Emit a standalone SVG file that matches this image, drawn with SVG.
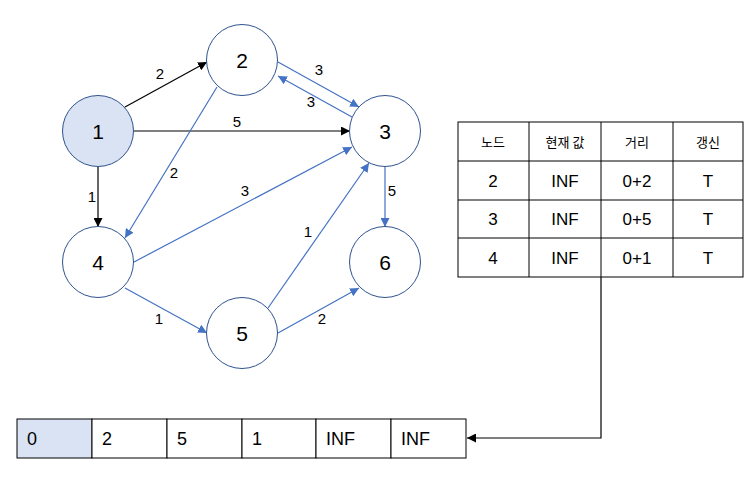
<svg xmlns="http://www.w3.org/2000/svg" width="756" height="491" viewBox="0 0 756 491">
<defs>
<marker id="ab" viewBox="0 0 10 10" refX="10" refY="5" markerWidth="9" markerHeight="9" markerUnits="userSpaceOnUse" orient="auto"><path d="M0,0 L10,5 L0,10 z" fill="#000"/></marker>
<marker id="au" viewBox="0 0 10 10" refX="10" refY="5" markerWidth="9" markerHeight="9" markerUnits="userSpaceOnUse" orient="auto"><path d="M0,0 L10,5 L0,10 z" fill="#4472C4"/></marker>
<style>
.n{fill:#fff;stroke:#2F528F;stroke-width:1}
.nt{font-family:"Liberation Sans","Noto Sans",sans-serif;font-size:21px;text-anchor:middle;dominant-baseline:central;fill:#000}
.eb{stroke:#000;stroke-width:1.2;fill:none;marker-end:url(#ab)}
.eu{stroke:#4472C4;stroke-width:1.2;fill:none;marker-end:url(#au)}
.el{font-family:"Liberation Sans","Noto Sans",sans-serif;font-size:15px;text-anchor:middle;dominant-baseline:central;fill:#000}
.tb{fill:#fff;stroke:#000;stroke-width:1}
.th{font-family:"Noto Sans CJK KR","Liberation Sans",sans-serif;font-size:13px;text-anchor:middle;dominant-baseline:central;fill:#000}
.td{font-family:"Liberation Sans","Noto Sans",sans-serif;font-size:17px;text-anchor:middle;dominant-baseline:central;fill:#000}
.ac{stroke:#000;stroke-width:1;fill:#fff}
.at{font-family:"Liberation Sans","Noto Sans",sans-serif;font-size:18px;dominant-baseline:central;fill:#000}
</style>
</defs>
<g id="connectors">
<line class="eb" x1="125" y1="107" x2="207" y2="62"/>
<line class="eb" x1="134" y1="131" x2="350" y2="131"/>
<line class="eb" x1="98" y1="167" x2="98" y2="227"/>
<line class="eu" x1="278" y1="62" x2="359" y2="107"/>
<line class="eu" x1="352" y1="117" x2="278" y2="76"/>
<line class="eu" x1="217" y1="87" x2="125" y2="238"/>
<line class="eu" x1="134" y1="262" x2="352" y2="147"/>
<line class="eu" x1="385" y1="167" x2="385" y2="227"/>
<line class="eu" x1="125" y1="288" x2="207" y2="333"/>
<line class="eu" x1="268" y1="308" x2="369" y2="163"/>
<line class="eu" x1="278" y1="333" x2="359" y2="288"/>
<polyline class="eb" points="601,277 601,438 467,438" stroke-width="1"/>
<text class="el" x="160" y="73">2</text>
<text class="el" x="237" y="121">5</text>
<text class="el" x="92" y="196">1</text>
<text class="el" x="319" y="69">3</text>
<text class="el" x="311" y="101">3</text>
<text class="el" x="174" y="172">2</text>
<text class="el" x="245" y="190">3</text>
<text class="el" x="392" y="190">5</text>
<text class="el" x="159" y="318">1</text>
<text class="el" x="308" y="231">1</text>
<text class="el" x="322" y="318">2</text>
</g>
<g id="node1"><circle class="n" cx="98" cy="131" r="35.5" style="fill:#DAE3F3"/><text class="nt" x="98" y="131">1</text></g>
<g id="node2"><circle class="n" cx="242" cy="60" r="35.5"/><text class="nt" x="242" y="60">2</text></g>
<g id="node3"><circle class="n" cx="385" cy="131" r="35.5"/><text class="nt" x="385" y="131">3</text></g>
<g id="node4"><circle class="n" cx="98" cy="262" r="35.5"/><text class="nt" x="98" y="262">4</text></g>
<g id="node5"><circle class="n" cx="242" cy="333" r="35.5"/><text class="nt" x="242" y="333">5</text></g>
<g id="node6"><circle class="n" cx="385" cy="262" r="35.5"/><text class="nt" x="385" y="262">6</text></g>
<g id="table">
<rect class="tb" x="458" y="122" width="285" height="155"/>
<line class="tb" x1="458" y1="161" x2="743" y2="161"/>
<line class="tb" x1="458" y1="200" x2="743" y2="200"/>
<line class="tb" x1="458" y1="238" x2="743" y2="238"/>
<line class="tb" x1="529" y1="122" x2="529" y2="277"/>
<line class="tb" x1="601" y1="122" x2="601" y2="277"/>
<line class="tb" x1="673" y1="122" x2="673" y2="277"/>
<text class="th" x="493" y="141">노드</text>
<text class="th" x="565" y="141">현재 값</text>
<text class="th" x="637" y="141">거리</text>
<text class="th" x="708" y="141">갱신</text>
<text class="td" x="493" y="181">2</text><text class="td" x="565" y="181">INF</text><text class="td" x="637" y="181">0+2</text><text class="td" x="708" y="181">T</text>
<text class="td" x="493" y="219">3</text><text class="td" x="565" y="219">INF</text><text class="td" x="637" y="219">0+5</text><text class="td" x="708" y="219">T</text>
<text class="td" x="493" y="258">4</text><text class="td" x="565" y="258">INF</text><text class="td" x="637" y="258">0+1</text><text class="td" x="708" y="258">T</text>
</g>
<g id="array">
<rect class="ac" x="17" y="419" width="75" height="39" style="fill:#DAE3F3"/>
<rect class="ac" x="92" y="419" width="75" height="39"/>
<rect class="ac" x="167" y="419" width="75" height="39"/>
<rect class="ac" x="242" y="419" width="74" height="39"/>
<rect class="ac" x="316" y="419" width="75" height="39"/>
<rect class="ac" x="391" y="419" width="75" height="39"/>
<text class="at" x="27" y="439">0</text>
<text class="at" x="102" y="439">2</text>
<text class="at" x="177" y="439">5</text>
<text class="at" x="252" y="439">1</text>
<text class="at" x="326" y="439">INF</text>
<text class="at" x="401" y="439">INF</text>
</g>
</svg>
